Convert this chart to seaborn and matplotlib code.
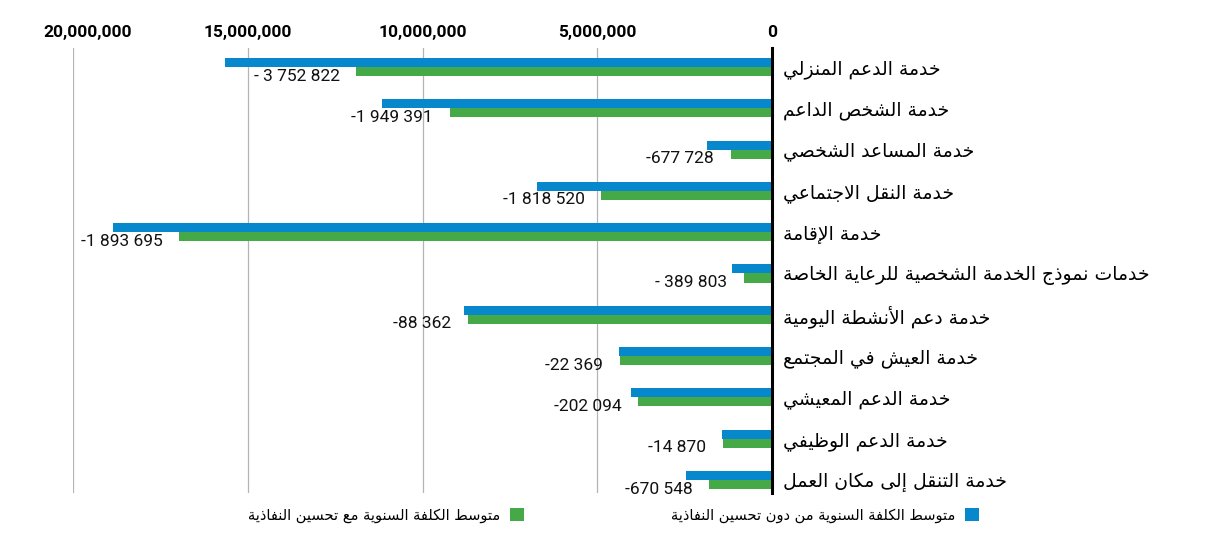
import pandas as pd
import numpy as np
import matplotlib
matplotlib.use('Agg')
import matplotlib.pyplot as plt
import matplotlib.transforms as mtransforms
from matplotlib.patches import Patch
import seaborn as sns

# chart data, top to bottom
categories = [
    'خدمة الدعم المنزلي',
    'خدمة الشخص الداعم',
    'خدمة المساعد الشخصي',
    'خدمة النقل الاجتماعي',
    'خدمة الإقامة',
    'خدمات نموذج الخدمة الشخصية للرعاية الخاصة',
    'خدمة دعم الأنشطة اليومية',
    'خدمة العيش في المجتمع',
    'خدمة الدعم المعيشي',
    'خدمة الدعم الوظيفي',
    'خدمة التنقُّل إلى مكان العمل',
]
without_access = [15640000, 11170000, 1860000, 6710000, 18860000, 1140000,
                  8800000, 4370000, 4030000, 1430000, 2460000]
with_access = [11890000, 9220000, 1180000, 4890000, 16960000, 800000,
               8710000, 4350000, 3830000, 1415000, 1790000]
diff_labels = ['- 3 752 822', '-1 949 391', '-677 728', '-1 818 520', '-1 893 695',
               '- 389 803', '-88 362', '-22 369', '-202 094', '-14 870', '-670 548']
series_names = ['متوسط الكلفة السنوية من دون تحسين النفاذية',
                'متوسط الكلفة السنوية مع تحسين النفاذية']
x_ticks = [0, 5000000, 10000000, 15000000, 20000000]

BLUE = '#0788cc'
GREEN = '#46a948'

# --- minimal arabic shaping (matplotlib draws glyphs left to right, unshaped) ---
_letters = 'ءآأؤإئابةتثجحخدذرزسشصضطظعغفقكلمنهوىي'
_right_only = 'آأؤإادذرزوةى'
AR_FORMS = {}
code = 0xFE80
for ch in _letters:
    n = 1 if ch == 'ء' else (2 if ch in _right_only else 4)
    AR_FORMS[ch] = [chr(code + k) for k in range(n)]
    code += n
LAM_ALEF = {'ا': ('\ufefb', '\ufefc'), 'أ': ('\ufef7', '\ufef8'),
            'إ': ('\ufef9', '\ufefa'), 'آ': ('\ufef5', '\ufef6')}
MARKS = set(chr(c) for c in range(0x064B, 0x0653))


def joins_next(c):
    return c in AR_FORMS and len(AR_FORMS[c]) == 4


def ar(text):
    chars = [c for c in text if c not in MARKS]
    out = []
    i = 0
    n = len(chars)
    while i < n:
        c = chars[i]
        if c not in AR_FORMS:
            out.append(c)
            i += 1
            continue
        prev = chars[i - 1] if i > 0 else ''
        after = joins_next(prev)
        if c == 'ل' and i + 1 < n and chars[i + 1] in LAM_ALEF:
            lig = LAM_ALEF[chars[i + 1]]
            out.append(lig[1] if after else lig[0])
            i += 2
            continue
        forms = AR_FORMS[c]
        if len(forms) == 1:
            out.append(forms[0])
            i += 1
            continue
        nxt = chars[i + 1] if i + 1 < n else ''
        before = joins_next(c) and nxt in AR_FORMS and nxt != 'ء'
        if after and before:
            f = forms[3]
        elif after:
            f = forms[1]
        elif before:
            f = forms[2]
        else:
            f = forms[0]
        out.append(f)
        i += 1
    return ''.join(reversed(out))


NUM_FONT = ['Liberation Sans Narrow', 'Roboto', 'DejaVu Sans']
AR_FONT = ['DejaVu Sans']

df = pd.DataFrame({
    'category': categories * 2,
    'series': [series_names[0]] * len(categories) + [series_names[1]] * len(categories),
    'value': without_access + with_access,
})

fig = plt.figure(figsize=(12.14, 5.39), dpi=100)
ax = fig.add_axes([73 / 1214, 1 - 493 / 539, (772 - 73) / 1214, 445 / 539])

sns.barplot(data=df, y='category', x='value', hue='series', order=categories,
            hue_order=series_names, palette=[BLUE, GREEN], width=0.44,
            saturation=1, orient='h', legend=False, ax=ax, zorder=3)

ax.set_xlim(20000000, 0)
ax.set_ylim(10.315, -0.46)
ax.set_xlabel('')
ax.set_ylabel('')

# axis decoration
for side in ['top', 'left', 'bottom']:
    ax.spines[side].set_visible(False)
ax.spines['right'].set_color('black')
ax.spines['right'].set_linewidth(2.2)
ax.spines['right'].set_zorder(5)
ax.grid(axis='x', color='#b4b4b4', linewidth=0.9, zorder=0)
ax.grid(axis='y', visible=False)

ax.xaxis.tick_top()
ax.set_xticks(x_ticks)
ax.set_xticklabels(['{:,}'.format(v) for v in x_ticks], family=NUM_FONT,
                   fontweight='bold', fontsize=12.5)
ax.tick_params(axis='x', length=0, pad=6)

ax.yaxis.tick_right()
ax.set_yticks(range(len(categories)))
ax.set_yticklabels([ar(c) for c in categories], family=AR_FONT, fontsize=13.5)
ax.tick_params(axis='y', length=0, pad=8)

# the 20,000,000 label sits a little right of its gridline
tick0 = ax.xaxis.get_major_ticks()[-1]
tick0.label2.set_transform(tick0.label2.get_transform() +
                           mtransforms.ScaledTranslation(0.15, 0, fig.dpi_scale_trans))

# difference labels next to the green bars
for i, (v, lab) in enumerate(zip(with_access, diff_labels)):
    ax.annotate(lab, xy=(v, i + 0.22), xytext=(-12, 0), textcoords='offset points',
                ha='right', va='center', family=NUM_FONT, fontsize=12.5, color='#111111',
                zorder=6)

# legend (square to the right of the text)
h_blue = Patch(facecolor=BLUE, edgecolor='none', label=ar(series_names[0]))
h_green = Patch(facecolor=GREEN, edgecolor='none', label=ar(series_names[1]))
for h, xr in [(h_blue, 979), (h_green, 524)]:
    fig.legend(handles=[h], loc='center right', bbox_to_anchor=(xr / 1214, 1 - 515 / 539),
               markerfirst=False, frameon=False, borderaxespad=0, borderpad=0,
               handlelength=0.95, handleheight=0.95, handletextpad=0.7,
               prop={'family': AR_FONT, 'size': 10.5})

fig.savefig('out.png', dpi=100)
